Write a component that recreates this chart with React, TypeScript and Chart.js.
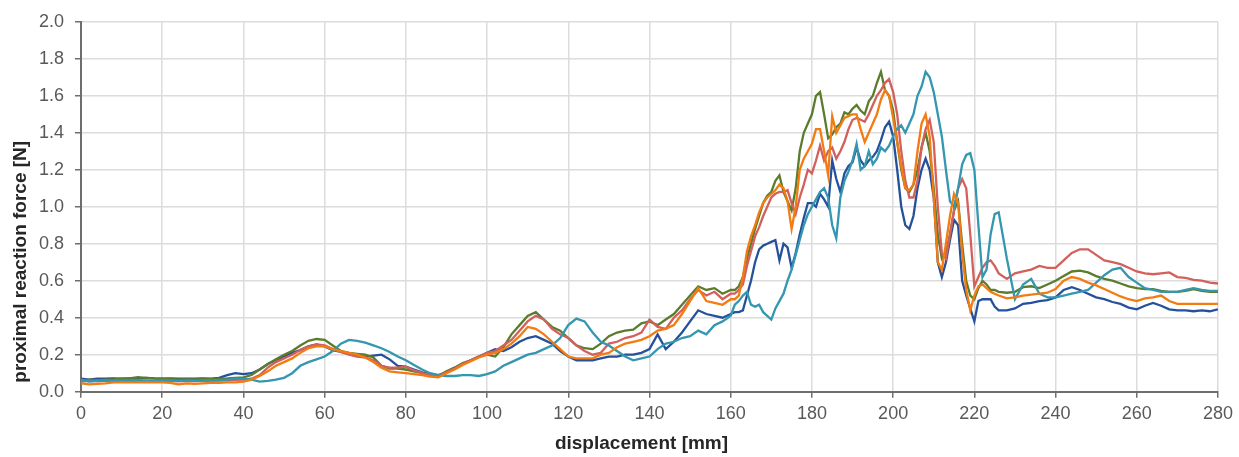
import React, { useEffect, useRef } from "react";
import { Chart, registerables } from "chart.js";

Chart.register(...registerables);

const X_TITLE = "displacement [mm]";
const Y_TITLE = "proximal reaction force [N]";

// displacement positions [mm]
const xs = [
  0, 2, 4, 6, 8, 10, 12, 14, 16, 18, 20, 22, 24, 26, 28, 30, 32, 34, 36, 38, 40,
  42, 44, 46, 48, 50, 52, 54, 56, 58, 60, 62, 64, 66, 68, 70, 72, 74, 76, 78, 80, 82, 84, 86, 88, 90, 92, 94, 96, 98, 100,
  102, 104, 106, 108, 110, 112, 114, 116, 118, 120, 122, 124, 126, 128, 130, 132, 134, 136, 138, 140, 142, 144, 146, 148, 150, 152, 154, 156, 158, 160,
  161, 162, 163, 164, 165, 166, 167, 168, 169, 170,
  171, 172, 173, 174, 175, 176, 177, 178, 179, 180,
  181, 182, 183, 184, 185, 186, 187, 188, 189, 190,
  191, 192, 193, 194, 195, 196, 197, 198, 199, 200,
  201, 202, 203, 204, 205, 206, 207, 208, 209, 210,
  211, 212, 213, 214, 215, 216, 217, 218, 219, 220,
  221, 222, 223, 224, 225, 226,
  228, 230, 232, 234, 236, 238, 240, 242, 244, 246, 248, 250, 252, 254, 256, 258, 260, 262, 264, 266, 268, 270, 272, 274, 276, 278, 280,
];

const orange = [
  0.045, 0.04, 0.042, 0.045, 0.05, 0.05, 0.05, 0.05, 0.052, 0.05, 0.05, 0.048, 0.04, 0.045, 0.042, 0.045, 0.048, 0.048, 0.05, 0.05, 0.055,
  0.065, 0.085, 0.11, 0.14, 0.16, 0.18, 0.21, 0.235, 0.245, 0.245, 0.23, 0.22, 0.21, 0.2, 0.185, 0.16, 0.13, 0.11, 0.105, 0.1, 0.095, 0.09, 0.082, 0.078, 0.1, 0.12, 0.145, 0.165, 0.185, 0.2,
  0.21, 0.23, 0.26, 0.3, 0.35, 0.34, 0.31, 0.27, 0.23, 0.19, 0.18, 0.18, 0.18, 0.2, 0.21, 0.24, 0.26, 0.27, 0.28, 0.3, 0.33, 0.34, 0.36, 0.42, 0.49, 0.56, 0.49, 0.48, 0.47, 0.5,
  0.5, 0.52, 0.62, 0.76, 0.84, 0.9, 0.97, 1.02, 1.05, 1.07,
  1.09, 1.12, 1.1, 1.03, 0.88, 1.0, 1.2, 1.26, 1.3, 1.34,
  1.42, 1.42, 1.3, 1.17, 1.49, 1.4, 1.44, 1.48, 1.49, 1.5,
  1.5, 1.42, 1.35, 1.4, 1.45, 1.5, 1.58, 1.63, 1.6, 1.48,
  1.35, 1.22, 1.1, 1.09, 1.12, 1.3, 1.45, 1.5, 1.38, 1.05,
  0.7, 0.66, 0.8, 0.95, 1.07, 1.02, 0.75, 0.55, 0.44, 0.52,
  0.57, 0.58, 0.56, 0.54, 0.53, 0.52,
  0.505, 0.51, 0.52, 0.525, 0.53, 0.535, 0.555, 0.6, 0.62, 0.61, 0.59, 0.575, 0.555, 0.535, 0.515, 0.5, 0.49, 0.505, 0.51, 0.52, 0.49, 0.475, 0.475, 0.475, 0.475, 0.475, 0.475,
];

const teal = [
  0.065, 0.055, 0.06, 0.058, 0.06, 0.06, 0.058, 0.06, 0.06, 0.058, 0.06, 0.06, 0.058, 0.06, 0.06, 0.06, 0.06, 0.062, 0.065, 0.07, 0.07,
  0.065, 0.055, 0.058, 0.065, 0.075, 0.1, 0.14, 0.16, 0.175, 0.19, 0.22, 0.26, 0.28, 0.275, 0.265, 0.25, 0.235, 0.215, 0.19, 0.17, 0.145, 0.12, 0.1, 0.09, 0.085, 0.085, 0.09, 0.09, 0.085, 0.095,
  0.11, 0.14, 0.16, 0.18, 0.2, 0.21, 0.23, 0.25, 0.29, 0.36, 0.395, 0.38, 0.32, 0.27, 0.25, 0.22, 0.19, 0.17, 0.18, 0.19, 0.23, 0.26, 0.27, 0.29, 0.3, 0.33, 0.31, 0.36, 0.38, 0.41,
  0.47, 0.49, 0.52, 0.54, 0.47, 0.46, 0.47, 0.43, 0.41, 0.39,
  0.45, 0.49, 0.53, 0.6, 0.66, 0.74, 0.82, 0.9, 0.96, 1.0,
  1.04, 1.08, 1.1, 1.05, 0.9, 0.83, 1.05, 1.14, 1.19, 1.25,
  1.34, 1.2, 1.22, 1.3, 1.23, 1.26, 1.32, 1.3, 1.33, 1.38,
  1.42, 1.44, 1.4, 1.45, 1.5, 1.6, 1.65, 1.73, 1.7, 1.62,
  1.5, 1.38, 1.2, 1.03, 1.0, 1.1, 1.23, 1.28, 1.29, 1.2,
  0.9, 0.62, 0.66, 0.85, 0.96, 0.97,
  0.72, 0.5, 0.58, 0.61, 0.53, 0.51, 0.51, 0.52, 0.53, 0.54, 0.55, 0.59, 0.63, 0.66, 0.67, 0.62, 0.59, 0.56, 0.55, 0.54, 0.54, 0.54, 0.55, 0.56, 0.55, 0.545, 0.545,
];

const red = [
  0.055, 0.058, 0.056, 0.06, 0.058, 0.06, 0.06, 0.062, 0.06, 0.058, 0.06, 0.058, 0.056, 0.058, 0.057, 0.058, 0.06, 0.06, 0.062, 0.064, 0.066,
  0.07, 0.09, 0.13, 0.16, 0.18, 0.2, 0.225, 0.245, 0.255, 0.25, 0.23, 0.215, 0.2, 0.19, 0.185, 0.17, 0.14, 0.13, 0.13, 0.135, 0.115, 0.1, 0.09, 0.085, 0.105, 0.125, 0.15, 0.17, 0.19, 0.21,
  0.22, 0.25, 0.28, 0.33, 0.38, 0.41, 0.39, 0.34, 0.31, 0.29, 0.25, 0.22, 0.2, 0.21, 0.26, 0.27, 0.29, 0.3, 0.32, 0.39, 0.35, 0.34, 0.4, 0.44, 0.5, 0.55, 0.52, 0.54, 0.5, 0.53,
  0.53, 0.55, 0.58, 0.68, 0.76, 0.84, 0.89, 0.95, 1.0, 1.05,
  1.07, 1.08, 1.08, 1.09, 1.02, 0.96, 1.05, 1.12, 1.2, 1.18,
  1.25, 1.33, 1.25, 1.3, 1.32, 1.26, 1.3, 1.35, 1.42, 1.47,
  1.48, 1.47, 1.46, 1.5, 1.55, 1.6, 1.63, 1.67, 1.69, 1.62,
  1.5, 1.3, 1.14, 1.05, 1.05, 1.14, 1.32, 1.42, 1.47, 1.35,
  1.0, 0.75, 0.72, 0.85, 0.98, 1.1, 1.15, 1.1, 0.85, 0.57,
  0.62, 0.67, 0.7, 0.71, 0.68, 0.64,
  0.61, 0.64, 0.65, 0.66, 0.68, 0.67, 0.67, 0.71, 0.75, 0.77, 0.77, 0.74, 0.71, 0.7, 0.69, 0.67, 0.65, 0.64, 0.635, 0.64, 0.645, 0.62, 0.615, 0.605, 0.6, 0.59, 0.585,
];

const green = [
  0.06, 0.065, 0.062, 0.065, 0.066, 0.07, 0.072, 0.078, 0.075, 0.072, 0.07, 0.068, 0.066, 0.067, 0.066, 0.068, 0.068, 0.07, 0.072, 0.075, 0.078,
  0.09, 0.12, 0.15, 0.175, 0.2, 0.22, 0.25, 0.275, 0.285, 0.28, 0.25, 0.22, 0.21, 0.205, 0.2, 0.185, 0.14, 0.125, 0.125, 0.12, 0.11, 0.1, 0.09, 0.085, 0.11, 0.13, 0.155, 0.17, 0.19, 0.2,
  0.19, 0.24, 0.31, 0.36, 0.41, 0.43, 0.39, 0.35, 0.33, 0.29, 0.25, 0.235, 0.23, 0.26, 0.3, 0.32, 0.33, 0.335, 0.37, 0.38, 0.36, 0.39, 0.42, 0.47, 0.52, 0.57, 0.55, 0.56, 0.53, 0.55,
  0.55, 0.57, 0.62, 0.72, 0.8, 0.88, 0.95, 1.02, 1.06, 1.08,
  1.14, 1.17, 1.08, 1.03, 0.98, 1.1, 1.3, 1.4, 1.45, 1.5,
  1.6, 1.62, 1.5, 1.37, 1.39, 1.43, 1.45, 1.51, 1.5, 1.53,
  1.55, 1.52, 1.5, 1.57, 1.6, 1.67, 1.73, 1.63, 1.6, 1.52,
  1.35, 1.2, 1.1, 1.08, 1.12, 1.2, 1.32, 1.4, 1.3, 1.1,
  0.85, 0.72, 0.75, 0.85, 0.98, 1.03, 0.8, 0.6, 0.52, 0.5,
  0.56, 0.6, 0.58, 0.55, 0.55, 0.54,
  0.535, 0.54, 0.565, 0.57, 0.56, 0.58, 0.6, 0.625, 0.65, 0.655, 0.645, 0.625, 0.61, 0.6, 0.585, 0.57, 0.56, 0.555, 0.555, 0.545, 0.54, 0.54, 0.545, 0.555, 0.545, 0.54, 0.54,
];

const blue = [
  0.07, 0.065, 0.07, 0.07, 0.072, 0.07, 0.072, 0.071, 0.075, 0.072, 0.07, 0.072, 0.07, 0.071, 0.07, 0.072, 0.071, 0.075, 0.09, 0.1, 0.095,
  0.1, 0.12, 0.15, 0.17, 0.19, 0.21, 0.225, 0.245, 0.255, 0.245, 0.225, 0.215, 0.205, 0.195, 0.19, 0.195, 0.2, 0.175, 0.14, 0.135, 0.12, 0.105, 0.095, 0.09, 0.105, 0.13, 0.15, 0.17, 0.19, 0.21,
  0.23, 0.22, 0.24, 0.27, 0.29, 0.3, 0.28, 0.26, 0.22, 0.19, 0.17, 0.17, 0.17, 0.18, 0.19, 0.19, 0.2, 0.2, 0.21, 0.23, 0.31, 0.23, 0.27, 0.32, 0.38, 0.44, 0.42, 0.41, 0.4, 0.42,
  0.43, 0.43, 0.44, 0.52, 0.6, 0.7, 0.77, 0.79, 0.8, 0.81,
  0.82, 0.71, 0.8, 0.78, 0.67, 0.75, 0.85, 0.94, 1.02, 1.02,
  1.0, 1.07, 1.04, 1.0, 1.25, 1.15, 1.08, 1.18, 1.22, 1.24,
  1.32, 1.25, 1.22, 1.25, 1.27, 1.3, 1.36, 1.43, 1.46, 1.38,
  1.2, 1.0, 0.9, 0.88, 0.95, 1.1, 1.2, 1.26, 1.2, 1.05,
  0.7, 0.62, 0.7, 0.82, 0.93, 0.9, 0.6, 0.52, 0.45, 0.38,
  0.49, 0.5, 0.5, 0.5, 0.46, 0.44,
  0.44, 0.45, 0.475, 0.48, 0.49, 0.495, 0.51, 0.55, 0.565, 0.55, 0.53, 0.51, 0.5, 0.485, 0.475, 0.455, 0.445, 0.465, 0.48, 0.465, 0.445, 0.44, 0.44, 0.435, 0.44, 0.435, 0.445,
];

const SERIES = [
  { name: "orange", values: orange, color: "#f27b12" },
  { name: "teal", values: teal, color: "#3596b0" },
  { name: "red", values: red, color: "#d3605c" },
  { name: "green", values: green, color: "#5b7c2c" },
  { name: "blue", values: blue, color: "#25519c" },
];

const FONT = '"Liberation Sans", Arial, sans-serif';

const titlesPlugin = {
  id: "axisTitles",
  afterDraw(chart: any) {
    const { ctx, chartArea } = chart;
    ctx.save();
    ctx.fillStyle = "#262626";
    ctx.font = `bold 19px ${FONT}`;
    ctx.textAlign = "center";
    ctx.textBaseline = "middle";
    ctx.fillText(X_TITLE, (chartArea.left + chartArea.right) / 2 - 8, 444);
    ctx.translate(21, (chartArea.top + chartArea.bottom) / 2 + 55);
    ctx.rotate(-Math.PI / 2);
    ctx.fillText(Y_TITLE, 0, 0);
    ctx.restore();
  },
};

export default function App() {
  const ref = useRef<HTMLCanvasElement>(null);
  useEffect(() => {
    document.body.style.margin = "0";
    const canvas = ref.current!;
    const chart = new Chart(canvas, {
      type: "line",
      data: {
        datasets: SERIES.map((s) => ({
          label: s.name,
          data: xs.map((x, i) => ({ x, y: s.values[i] })),
          borderColor: s.color,
          backgroundColor: s.color,
          borderWidth: 2.3,
          pointRadius: 0,
          tension: 0,
          fill: false,
        })),
      },
      options: {
        animation: false,
        responsive: false,
        maintainAspectRatio: false,
        layout: { padding: { left: 0, top: 20, right: 21, bottom: 0 } },
        plugins: { legend: { display: false }, tooltip: { enabled: false } },
        scales: {
          x: {
            type: "linear",
            min: 0,
            max: 280,
            afterFit: (s: any) => {
              s.height = 65.3;
            },
            ticks: {
              stepSize: 20,
              color: "#595959",
              font: { family: FONT, size: 18 },
              padding: 6,
              maxRotation: 0,
            },
            grid: { color: "#dcdcdc", lineWidth: 1.5, tickColor: "#6e6e6e", tickLength: 6 },
            border: { color: "#6e6e6e", width: 2 },
          },
          y: {
            min: 0,
            max: 2,
            afterFit: (s: any) => {
              s.width = 81;
            },
            ticks: {
              stepSize: 0.2,
              color: "#595959",
              font: { family: FONT, size: 18 },
              padding: 11,
              callback: (v: any) => Number(v).toFixed(1),
            },
            grid: { color: "#dcdcdc", lineWidth: 1.5, tickColor: "#6e6e6e", tickLength: 6 },
            border: { color: "#6e6e6e", width: 2 },
          },
        },
      },
      plugins: [titlesPlugin],
    });
    return () => chart.destroy();
  }, []);
  return (
    <div style={{ width: 1239, height: 457, background: "#fff" }}>
      <canvas ref={ref} width={1239} height={457} style={{ display: "block" }} />
    </div>
  );
}
